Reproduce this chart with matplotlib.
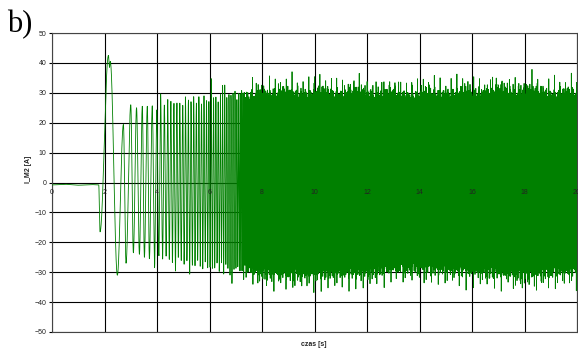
import numpy as np
import matplotlib
matplotlib.use("Agg")
import matplotlib.pyplot as plt

# ---- data ----
# flat pre-start part and first transient swings (time [s], current [A]) at extremes
t_ext = [0.0, 0.5, 1.0, 1.5, 1.78, 1.83, 2.15, 2.19, 2.22, 2.49, 2.72, 2.82, 3.00,
         3.10, 3.22, 3.33, 3.44, 3.52, 3.63, 3.71, 3.82]
v_ext = [-0.8, -0.6, -0.9, -0.7, -0.8, -16.5, 42.5, 38.5, 40.5, -31.0, 19.4, -27.0,
         26.0, -23.5, 25.0, -24.0, 25.5, -25.0, 25.5, -25.5, 25.5]

# envelope of the steady oscillation (time [s], upper [A], lower [A]) - solid band edge
t_env = [3.82, 4.5, 5.5, 6.0, 6.5, 7.0, 7.5, 8.0, 9.0, 10.0, 11.0, 12.0, 13.0, 14.0,
         15.0, 16.0, 17.0, 18.0, 19.0, 20.0]
upper = [25.0, 25.5, 26.5, 27.5, 28.0, 28.5, 29.0, 29.5, 29.5, 29.5, 29.5, 29.5, 29.0,
         29.0, 29.5, 29.5, 30.0, 30.0, 29.5, 29.0]
lower = [-25.0, -25.5, -27.0, -27.5, -28.0, -28.5, -29.0, -29.5, -30.0, -30.0, -29.5,
         -29.5, -28.0, -28.0, -28.5, -29.0, -29.5, -30.5, -29.5, -29.0]
# apparent oscillation frequency (time [s], Hz)
t_freq = [3.82, 4.5, 5.5, 6.5, 7.0, 7.5, 8.0, 20.0]
freq = [5.5, 8.5, 10.0, 12.0, 13.5, 25.0, 50.0, 50.0]

y_ticks = [-50, -40, -30, -20, -10, 0, 10, 20, 30, 40, 50]
x_ticks = [0, 2, 4, 6, 8, 10, 12, 14, 16, 18, 20]

# ---- build the trace ----
fs = 2500.0
te, ve = [], []
for i in range(len(t_ext) - 1):
    n = max(int((t_ext[i + 1] - t_ext[i]) * fs), 2)
    s = np.linspace(0, 1, n, endpoint=False)
    te.append(t_ext[i] + s * (t_ext[i + 1] - t_ext[i]))
    ve.append(v_ext[i] + (v_ext[i + 1] - v_ext[i]) * (1 - np.cos(np.pi * s)) / 2)
te = np.concatenate(te)
ve = np.concatenate(ve)

t2 = np.arange(t_env[0], t_env[-1], 1 / fs)
f2 = np.interp(t2, t_freq, freq)
phi = 2 * np.pi * np.cumsum(f2) / fs
phi -= phi[0]
up = np.interp(t2, t_env, upper)
lo = np.interp(t2, t_env, lower)


def ripple(tt, a, b, c, p):
    m = np.clip(np.cos(2 * np.pi * a * tt + p) * np.cos(2 * np.pi * b * tt), 0, None)
    return (1 + 0.04 * np.cos(2 * np.pi * c * tt + p)
            + 0.20 * m ** 2
            + 0.06 * np.clip(np.cos(2 * np.pi * 4.3 * c * tt + 2 * p), 0, None) ** 3)


rip_u = ripple(t2, 11.7, 2.3, 5.9, 0.3)
rip_l = ripple(t2, 13.1, 1.9, 6.7, 1.7)
c = np.cos(phi)
v2 = np.where(c >= 0, up * rip_u * c, -lo * rip_l * c)

t = np.concatenate([te, t2])
v = np.concatenate([ve, v2])

# ---- figure ----
W, H = 578, 349
fig = plt.figure(figsize=(W / 100, H / 100), dpi=100)
ax = fig.add_axes([52 / W, (H - 332) / H, (577 - 52) / W, (332 - 33) / H])

ax.plot(t, v, color="#008000", lw=0.6, zorder=3)

ax.set_xlim(0, 20)
ax.set_ylim(-50, 50)
ax.set_xticks(x_ticks)
ax.set_yticks(y_ticks)
ax.grid(True, color="black", lw=0.8, zorder=1)
ax.set_axisbelow(True)
for sp in ax.spines.values():
    sp.set_color("#444444")
    sp.set_linewidth(0.8)

ax.tick_params(axis="x", bottom=False, labelbottom=False)
ax.tick_params(axis="y", direction="out", length=2.2, width=0.8, pad=2,
               labelsize=5, labelcolor="#222222")
for lab in ax.get_yticklabels():
    lab.set_family("Liberation Sans")

for xv in x_ticks:
    ax.annotate(str(xv), xy=(xv, 0), xytext=(0, -4.5), textcoords="offset points",
                ha="center", va="top", fontsize=5, family="Liberation Sans",
                color="#222222", annotation_clip=False, zorder=5)

fig.text(314 / W, 1 - 344 / H, "czas [s]", ha="center", va="center", fontsize=5,
         fontweight="bold", family="Liberation Sans", color="#222222")
fig.text(29 / W, 1 - 169 / H, "I_M2 [A]", ha="center", va="center", rotation=90,
         fontsize=5, fontweight="bold", family="Liberation Sans", color="#222222")
fig.text(7 / W, 1 - 32 / H, "b)", ha="left", va="baseline", fontsize=22,
         family="Liberation Serif", color="black")

fig.savefig("out.png", dpi=100)
